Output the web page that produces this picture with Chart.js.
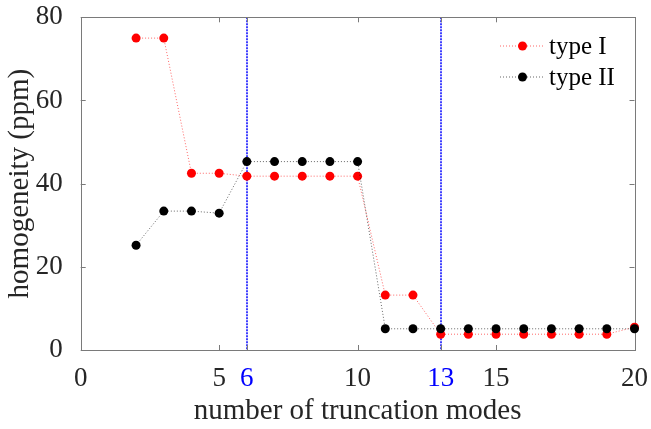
<!DOCTYPE html>
<html>
<head>
<meta charset="utf-8">
<script src="https://cdn.jsdelivr.net/npm/chart.js@4"></script>
<style>
html,body{margin:0;padding:0;background:#fff;}
#wrap{width:651px;height:429px;position:relative;}
</style>
</head>
<body>
<div id="wrap"><canvas id="c" width="651" height="429"></canvas></div>
<script>
// ---- data ----
const modes = [2,3,4,5,6,7,8,9,10,11,12,13,14,15,16,17,18,19,20];
const typeI  = [75,75,42.5,42.5,41.8,41.8,41.8,41.8,41.8,13.2,13.2,3.8,3.8,3.8,3.8,3.8,3.8,3.8,5.5];
const typeII = [25.2,33.4,33.4,32.9,45.3,45.3,45.3,45.3,45.3,5.1,5.1,5.1,5.1,5.1,5.1,5.1,5.1,5.1,5.1];
const seriesNames = ['type I','type II'];
const markedModes = [6,13];
const xTicks = [0,5,6,10,13,15,20];
const yTicks = [0,20,40,60,80];

const FONT = 'Liberation Serif';
const AXIS_COLOR = '#7a7a7a';

const toPts = (xs, ys) => xs.map((x,i)=>({x:x,y:ys[i]}));

const boxPlugin = {
  id:'boxPlugin',
  beforeDatasetsDraw(chart){
    const {ctx, chartArea:a, scales:{x,y}} = chart;
    ctx.save();
    // reference lines
    ctx.strokeStyle = '#0000ff';
    ctx.lineWidth = 1.5;
    ctx.setLineDash([2,1]);
    markedModes.forEach(m=>{
      const px = Math.round(x.getPixelForValue(m));
      ctx.beginPath(); ctx.moveTo(px,a.top); ctx.lineTo(px,a.bottom); ctx.stroke();
    });
    ctx.setLineDash([]);
    // box
    ctx.strokeStyle = AXIS_COLOR;
    ctx.lineWidth = 1;
    ctx.strokeRect(Math.round(a.left)+0.5, Math.round(a.top)+0.5, Math.round(a.right-a.left), Math.round(a.bottom-a.top));
    const tl = 5;
    ctx.beginPath();
    xTicks.forEach(v=>{
      const px = Math.round(x.getPixelForValue(v))+0.5;
      ctx.moveTo(px,a.bottom); ctx.lineTo(px,a.bottom-tl);
      ctx.moveTo(px,a.top); ctx.lineTo(px,a.top+tl);
    });
    yTicks.forEach(v=>{
      const py = Math.round(y.getPixelForValue(v))+0.5;
      ctx.moveTo(a.left,py); ctx.lineTo(a.left+tl,py);
      ctx.moveTo(a.right,py); ctx.lineTo(a.right-tl,py);
    });
    ctx.stroke();
    ctx.restore();
  },
  afterDatasetsDraw(chart){
    const {ctx} = chart;
    ctx.save();
    const rows = [46, 77];
    chart.data.datasets.forEach((ds,i)=>{
      const yy = rows[i];
      ctx.strokeStyle = ds.borderColor;
      ctx.lineWidth = 1;
      ctx.setLineDash([1,2]);
      ctx.beginPath(); ctx.moveTo(500,yy); ctx.lineTo(545,yy); ctx.stroke();
      ctx.setLineDash([]);
      ctx.fillStyle = ds.pointBackgroundColor;
      ctx.beginPath(); ctx.arc(522.5,yy,ds.pointRadius,0,Math.PI*2); ctx.fill();
      ctx.fillStyle = '#000';
      ctx.font = '25px "' + FONT + '"';
      ctx.textBaseline = 'middle';
      ctx.textAlign = 'left';
      ctx.fillText(ds.label, 549, yy+1);
    });
    ctx.restore();
  }
};

new Chart(document.getElementById('c'), {
  type:'line',
  data:{
    datasets:[
      {label:seriesNames[0], data:toPts(modes,typeI), borderColor:'rgba(255,0,0,0.6)', borderWidth:1, borderDash:[1,2],
       pointBackgroundColor:'#ff0000', pointBorderWidth:0, pointRadius:4.5, clip:false, order:1, tension:0},
      {label:seriesNames[1], data:toPts(modes,typeII), borderColor:'rgba(0,0,0,0.6)', borderWidth:1, borderDash:[1,2],
       pointBackgroundColor:'#000000', pointBorderWidth:0, pointRadius:4.5, clip:false, order:0, tension:0}
    ]
  },
  options:{
    responsive:false,
    animation:false,
    events:[],
    layout:{padding:{left:0,right:16.5,top:17.3,bottom:0}},
    plugins:{legend:{display:false},tooltip:{enabled:false}},
    scales:{
      x:{
        type:'linear', min:0, max:20,
        afterBuildTicks(s){ s.ticks = xTicks.map(v=>({value:v})); },
        afterFit(s){ s.height = 79; s.paddingLeft = 0; s.paddingRight = 0; },
        grid:{display:false}, border:{display:false},
        ticks:{
          autoSkip:false, maxRotation:0, padding:5,
          font:{family:FONT,size:27},
          color:(c)=> markedModes.includes(c.tick.value) ? '#0000ff' : '#262626',
          callback:(v)=>String(v)
        },
        title:{display:true,text:'number of truncation modes',font:{family:FONT,size:29},color:'#262626',padding:{top:0,bottom:0}}
      },
      y:{
        type:'linear', min:0, max:80,
        afterBuildTicks(s){ s.ticks = yTicks.map(v=>({value:v})); },
        afterFit(s){ s.width = 80.7; s.paddingTop = 0; s.paddingBottom = 0; },
        grid:{display:false}, border:{display:false},
        ticks:{padding:10,font:{family:FONT,size:27},color:'#262626',callback:(v)=>String(v)},
        title:{display:true,text:'homogeneity (ppm)',font:{family:FONT,size:29},color:'#262626',padding:{top:3,bottom:0}}
      }
    }
  },
  plugins:[boxPlugin]
});
</script>
</body>
</html>
